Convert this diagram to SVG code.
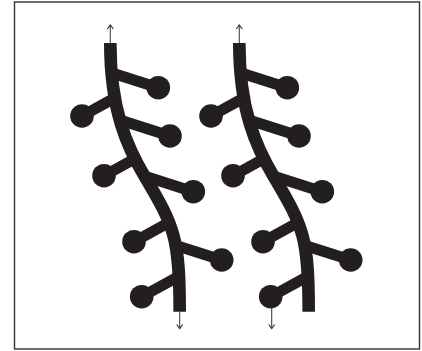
<svg xmlns="http://www.w3.org/2000/svg" width="422" height="351" viewBox="0 0 422 351">
<style>
.bb{fill:none;stroke:#231f20;stroke-width:12.6;stroke-linecap:butt}
.br{stroke:#231f20;stroke-width:11;stroke-linecap:butt}
.ball{fill:#231f20}
.arr{fill:none;stroke:#444;stroke-width:1.1}
</style>
<defs>
<marker id="ah" viewBox="0 0 6 8" refX="5" refY="4" markerWidth="6" markerHeight="8" markerUnits="userSpaceOnUse" orient="auto">
<path d="M1,1 L5,4 L1,7" fill="none" stroke="#333" stroke-width="1.2"/>
</marker>
</defs>
<rect x="14.5" y="2" width="405" height="347" fill="#fff" stroke="#333" stroke-width="1.4"/>
<g id="strand1">
<path id="backbone1" class="bb" d="M110.3,43 C110.3,110 127,147 145,177 C175,227 179.7,240 179.7,311.7"/>
<g id="s1-n1"><line class="br" x1="110.5" y1="72.4" x2="158.3" y2="87.7"/><circle class="ball" cx="158.3" cy="87.7" r="11.8"/></g>
<g id="s1-n2"><line class="br" x1="114" y1="98.4" x2="82" y2="116"/><circle class="ball" cx="82" cy="116" r="11.8"/></g>
<g id="s1-n3"><line class="br" x1="119" y1="119.7" x2="170" y2="136"/><circle class="ball" cx="170" cy="136" r="11.8"/></g>
<g id="s1-n4"><line class="br" x1="133" y1="159.7" x2="104" y2="175.7"/><circle class="ball" cx="104" cy="175.7" r="11.8"/></g>
<g id="s1-n5"><line class="br" x1="145" y1="176.2" x2="193.3" y2="191.7"/><circle class="ball" cx="193.3" cy="191.7" r="11.8"/></g>
<g id="s1-n6"><line class="br" x1="168" y1="223" x2="134" y2="241.7"/><circle class="ball" cx="134" cy="241.7" r="11.8"/></g>
<g id="s1-n7"><line class="br" x1="176" y1="245.4" x2="221.7" y2="260"/><circle class="ball" cx="221.7" cy="260" r="11.8"/></g>
<g id="s1-n8"><line class="br" x1="178" y1="276.7" x2="141.7" y2="296.7"/><circle class="ball" cx="141.7" cy="296.7" r="11.8"/></g>
</g>
<g id="strand2" transform="translate(129,0)">
<path id="backbone2" class="bb" d="M110.3,43 C110.3,110 127,147 145,177 C175,227 179.7,240 179.7,311.7"/>
<g id="s2-n1"><line class="br" x1="110.5" y1="72.4" x2="158.3" y2="87.7"/><circle class="ball" cx="158.3" cy="87.7" r="11.8"/></g>
<g id="s2-n2"><line class="br" x1="114" y1="98.4" x2="82" y2="116"/><circle class="ball" cx="82" cy="116" r="11.8"/></g>
<g id="s2-n3"><line class="br" x1="119" y1="119.7" x2="170" y2="136"/><circle class="ball" cx="170" cy="136" r="11.8"/></g>
<g id="s2-n4"><line class="br" x1="133" y1="159.7" x2="104" y2="175.7"/><circle class="ball" cx="104" cy="175.7" r="11.8"/></g>
<g id="s2-n5"><line class="br" x1="145" y1="176.2" x2="193.3" y2="191.7"/><circle class="ball" cx="193.3" cy="191.7" r="11.8"/></g>
<g id="s2-n6"><line class="br" x1="168" y1="223" x2="134" y2="241.7"/><circle class="ball" cx="134" cy="241.7" r="11.8"/></g>
<g id="s2-n7"><line class="br" x1="176" y1="245.4" x2="221.7" y2="260"/><circle class="ball" cx="221.7" cy="260" r="11.8"/></g>
<g id="s2-n8"><line class="br" x1="178" y1="276.7" x2="141.7" y2="296.7"/><circle class="ball" cx="141.7" cy="296.7" r="11.8"/></g>
</g>
<g id="connectors">
<line class="arr" x1="110.3" y1="43" x2="110.3" y2="25" marker-end="url(#ah)"/>
<line class="arr" x1="239.3" y1="43" x2="239.3" y2="25" marker-end="url(#ah)"/>
<line class="arr" x1="179.7" y1="311.7" x2="179.7" y2="328.5" marker-end="url(#ah)"/>
<line class="arr" x1="271.7" y1="308" x2="271.7" y2="328.5" marker-end="url(#ah)"/>
</g>
</svg>
